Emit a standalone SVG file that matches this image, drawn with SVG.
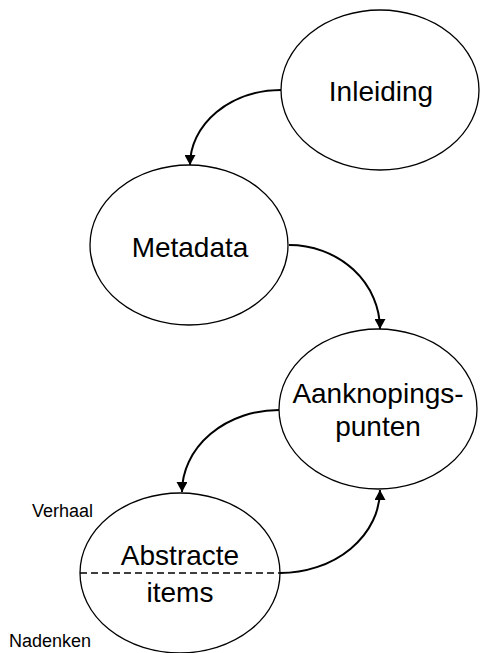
<svg xmlns="http://www.w3.org/2000/svg" width="480" height="653" viewBox="0 0 480 653">
  <style>
    .node { fill: #ffffff; stroke: #000000; stroke-width: 1.3; }
    .label { font-family: "Liberation Sans", Arial, sans-serif; font-size: 28px; fill: #000000; text-anchor: middle; }
    .side { font-family: "Liberation Sans", Arial, sans-serif; font-size: 18px; fill: #000000; }
    .edge { fill: none; stroke: #000000; stroke-width: 2; marker-end: url(#arrow); }
    .divider { stroke: #000000; stroke-width: 1.3; stroke-dasharray: 7 4; }
  </style>
  <defs>
    <!-- filled triangular arrowhead, tip at the path end -->
    <marker id="arrow" markerUnits="userSpaceOnUse" markerWidth="10" markerHeight="11" viewBox="0 0 10 11" refX="10" refY="5.5" orient="auto">
      <path d="M0,0 L10,5.5 L0,11 Z" fill="#000000"/>
    </marker>
  </defs>
  <rect width="480" height="653" fill="#ffffff"/>

  <g id="inleiding">
    <ellipse class="node" cx="380" cy="90" rx="99" ry="80"/>
    <text class="label" x="381" y="101">Inleiding</text>
  </g>

  <g id="metadata">
    <ellipse class="node" cx="189" cy="245" rx="99" ry="80"/>
    <text class="label" x="190" y="257">Metadata</text>
  </g>

  <g id="aanknopingspunten">
    <ellipse class="node" cx="378" cy="409" rx="99" ry="80"/>
    <text class="label" x="378" y="403">Aanknopings-</text>
    <text class="label" x="378" y="436">punten</text>
  </g>

  <g id="abstracte-items">
    <ellipse class="node" cx="180" cy="573" rx="100" ry="80"/>
    <line class="divider" x1="80" y1="573" x2="280" y2="573"/>
    <text class="label" x="180" y="565">Abstracte</text>
    <text class="label" x="180" y="602">items</text>
    <text class="side" x="32" y="517">Verhaal</text>
    <text class="side" x="9" y="647">Nadenken</text>
  </g>

  <g id="connectors">
    <path class="edge" d="M281,90 A91,75 0 0 0 190,165"/>
    <path class="edge" d="M289,245 A91,84 0 0 1 380,329"/>
    <path class="edge" d="M279,410 A97,82 0 0 0 182,492"/>
    <path class="edge" d="M280,573 A100,83 0 0 0 380,490"/>
  </g>
</svg>
